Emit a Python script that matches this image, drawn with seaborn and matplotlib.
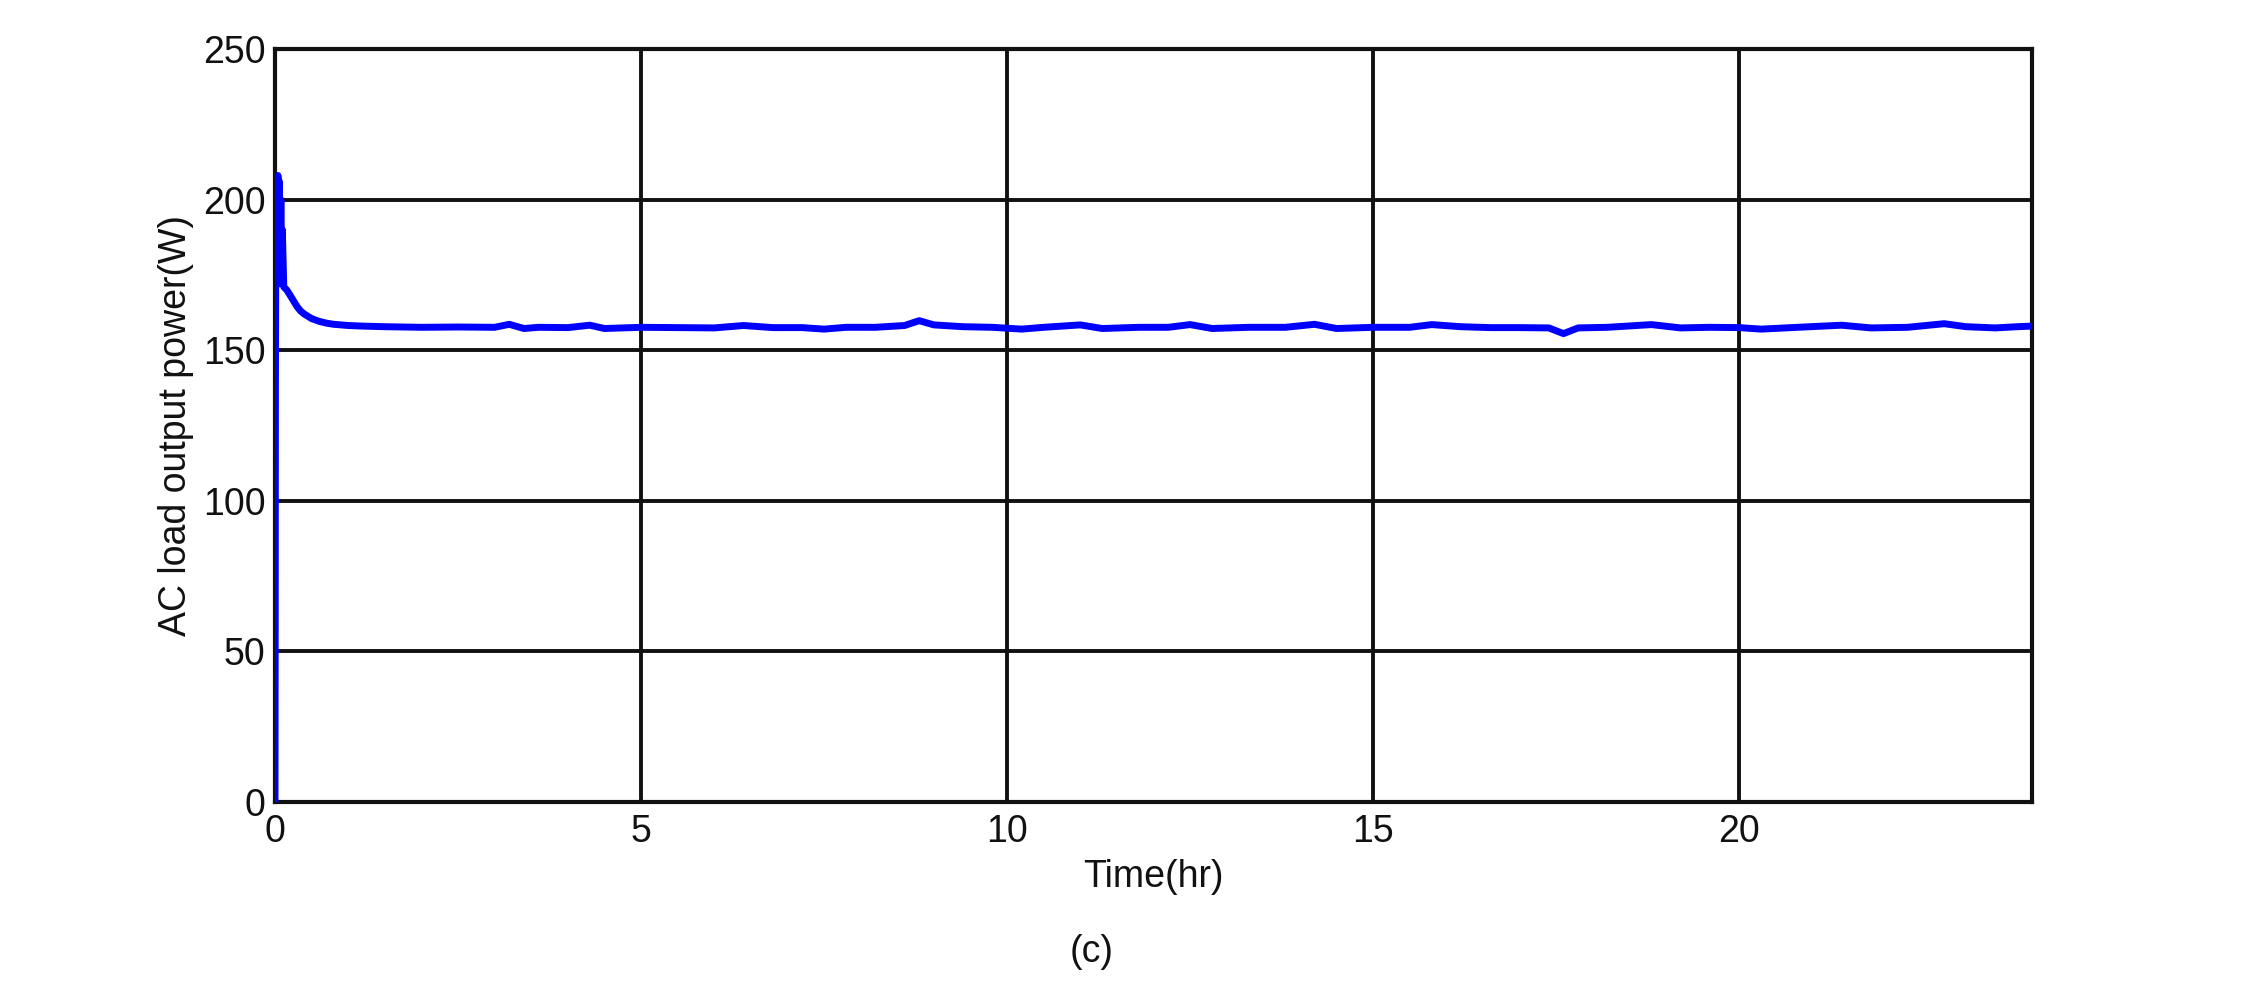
import matplotlib
matplotlib.use("Agg")
import matplotlib.pyplot as plt
import seaborn as sns
import pandas as pd

time_hr = [0, 0.003, 0.006, 0.01, 0.02, 0.03, 0.04, 0.05, 0.06, 0.07, 0.08, 0.09, 0.10,
           0.12, 0.16, 0.2, 0.25, 0.3, 0.35, 0.4, 0.5, 0.6, 0.7, 0.8, 1.0, 1.2,
           1.5, 2.0, 2.5, 3.0, 3.2, 3.4, 3.6, 4.0, 4.3, 4.5, 5.0, 5.5, 6.0, 6.4,
           6.8, 7.2, 7.5, 7.8, 8.2, 8.6, 8.8, 9.0, 9.4, 9.8, 10.2, 10.5, 11.0,
           11.3, 11.8, 12.2, 12.5, 12.8, 13.3, 13.8, 14.2, 14.5, 15.0, 15.5,
           15.8, 16.2, 16.6, 17.0, 17.4, 17.6, 17.8, 18.2, 18.8, 19.2, 19.6,
           20.0, 20.3, 20.8, 21.4, 21.8, 22.3, 22.8, 23.1, 23.5, 23.8, 24.0]
power_w = [0, 60, 140, 175, 200, 178, 208, 172, 206, 175, 200, 173, 190,
           171, 170, 168.5, 166.5, 164.5, 163, 162, 160.5, 159.6, 159.0, 158.6, 158.2, 158.0,
           157.8, 157.6, 157.7, 157.6, 158.6, 157.2, 157.6, 157.5, 158.3, 157.2, 157.6, 157.5, 157.4, 158.2,
           157.5, 157.5, 157.0, 157.6, 157.6, 158.2, 159.8, 158.4, 157.8, 157.6, 157.0, 157.6, 158.4,
           157.2, 157.6, 157.6, 158.5, 157.2, 157.6, 157.6, 158.6, 157.2, 157.6, 157.6,
           158.5, 157.8, 157.5, 157.5, 157.4, 155.5, 157.4, 157.6, 158.5, 157.4, 157.6,
           157.5, 157.0, 157.6, 158.3, 157.4, 157.6, 158.8, 157.8, 157.4, 157.8, 158.0]

x_ticks = [0, 5, 10, 15, 20]
y_ticks = [0, 50, 100, 150, 200, 250]

df = pd.DataFrame({"Time(hr)": time_hr, "Power": power_w})

sns.set_theme(style="white")
plt.rcParams["font.family"] = ["Liberation Sans", "DejaVu Sans"]

fig = plt.figure(figsize=(22.57, 9.94), dpi=100)
ax = fig.add_axes([275 / 2257, 1 - 802 / 994, (2032 - 275) / 2257, (802 - 49) / 994])

sns.lineplot(data=df, x="Time(hr)", y="Power", ax=ax, color="#0000ff",
             linewidth=5, sort=False, estimator=None, zorder=3)

ax.set_xlim(0, 24)
ax.set_ylim(0, 250)
ax.set_xticks(x_ticks)
ax.set_yticks(y_ticks)
ax.grid(True, color="#111111", linewidth=2.8, linestyle="-")
ax.set_axisbelow(True)
for s in ax.spines.values():
    s.set_visible(True)
    s.set_color("#111111")
    s.set_linewidth(3)
ax.tick_params(axis="x", direction="in", length=0, labelsize=27,
               colors="#111111", pad=9)
ax.tick_params(axis="y", direction="in", length=0, labelsize=27,
               colors="#111111", pad=7)
ax.set_xlabel("Time(hr)", fontsize=27, color="#111111", labelpad=6)
ax.set_ylabel("AC load output power(W)", fontsize=27, color="#111111", labelpad=6)

fig.text(1092 / 2257, 1 - 952 / 994, "(c)", ha="center", va="center",
         fontsize=27, color="#111111")

fig.savefig("out.png", dpi=100, facecolor="white")
